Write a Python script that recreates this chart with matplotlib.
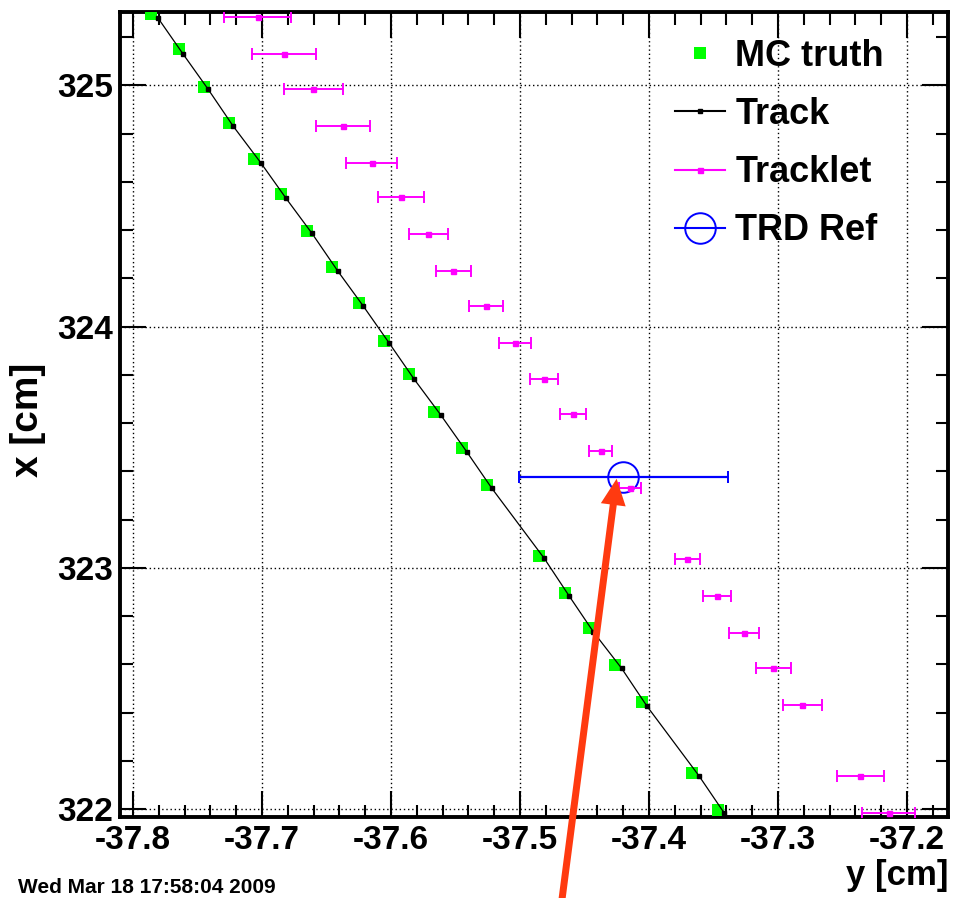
import matplotlib
matplotlib.use("Agg")
import matplotlib.pyplot as plt
from matplotlib.ticker import MultipleLocator, FormatStrFormatter
from matplotlib.lines import Line2D
from matplotlib.patches import FancyArrowPatch

# ---------------- data (horizontal = y [cm], vertical = x [cm]) ----------------
mc_y = [-37.786, -37.7646, -37.745, -37.7253, -37.7062, -37.685, -37.6653,
        -37.6455, -37.6246, -37.6052, -37.5858, -37.5664, -37.5452, -37.5258,
        -37.485, -37.4651, -37.4463, -37.4264, -37.4057, -37.3664, -37.3467]
mc_x = [325.296, 325.150, 324.995, 324.843, 324.695, 324.550, 324.396,
        324.248, 324.097, 323.942, 323.802, 323.647, 323.495, 323.343,
        323.049, 322.894, 322.749, 322.597, 322.442, 322.148, 321.996]

track_y = [-37.7806, -37.7612, -37.7419, -37.7225, -37.7008, -37.6814, -37.6612,
           -37.6411, -37.6215, -37.6016, -37.5822, -37.5615, -37.5413, -37.5219,
           -37.4812, -37.462, -37.4432, -37.4212, -37.4018, -37.3612, -37.3419]
track_x = [325.279, 325.130, 324.985, 324.832, 324.678, 324.532, 324.386,
           324.229, 324.085, 323.933, 323.783, 323.634, 323.481, 323.330,
           323.039, 322.884, 322.735, 322.583, 322.428, 322.137, 321.985]

tracklet_y = [-37.7033, -37.6829, -37.6602, -37.6374, -37.615, -37.5925, -37.5711,
              -37.5517, -37.5264, -37.5039, -37.4814, -37.4587, -37.4374, -37.4147,
              -37.3703, -37.3475, -37.3261, -37.3036, -37.2812, -37.2364, -37.214]
tracklet_yerr = [0.026, 0.025, 0.0227, 0.021, 0.0197, 0.0179, 0.0153,
                 0.0138, 0.0132, 0.0122, 0.011, 0.0102, 0.0088, 0.0084,
                 0.0098, 0.0108, 0.0116, 0.0137, 0.0153, 0.0182, 0.0205]
tracklet_x = [325.285, 325.129, 324.984, 324.832, 324.677, 324.536, 324.383,
              324.231, 324.085, 323.931, 323.783, 323.636, 323.483, 323.330,
              323.035, 322.883, 322.731, 322.583, 322.431, 322.137, 321.982]

trdref_y = [-37.4199]
trdref_yerr = [0.081]
trdref_x = [323.378]

x_ticks = [-37.8, -37.7, -37.6, -37.5, -37.4, -37.3, -37.2]
y_ticks = [322, 323, 324, 325]
legend_labels = ["MC truth", "Track", "Tracklet", "TRD Ref"]
date_text = "Wed Mar 18 17:58:04 2009"

# ---------------- style ----------------
plt.rcParams['font.family'] = ['Liberation Sans', 'DejaVu Sans']
plt.rcParams['font.weight'] = 'bold'

W, H = 955, 898
fig = plt.figure(figsize=(W / 100, H / 100), dpi=100)
ax = fig.add_axes([120 / W, 1 - 817 / H, 828 / W, 805 / H])

ax.set_xlim(-37.8101, -37.1682)
ax.set_ylim(321.9668, 325.3043)

GREEN = '#00ff00'
MAG = '#ff00ff'
BLUE = '#0000ff'

# MC truth
ax.plot(mc_y, mc_x, linestyle='none', marker='s', markersize=8,
        color=GREEN, markeredgewidth=0, zorder=3)
# Track
ax.plot(track_y, track_x, '-', color='black', linewidth=0.9,
        marker='s', markersize=3, zorder=4)
# TRD Ref
ax.errorbar(trdref_y, trdref_x, xerr=trdref_yerr, fmt='o', color=BLUE,
            markerfacecolor='none', markeredgecolor=BLUE, markersize=22,
            markeredgewidth=1.4, elinewidth=1.6, capsize=4.5, capthick=1.6,
            zorder=5)
# Tracklets
ax.errorbar(tracklet_y, tracklet_x, xerr=tracklet_yerr, fmt='s', color=MAG,
            markersize=3.6, elinewidth=1.4, capsize=4, capthick=1.4, zorder=6)

# ticks / grid
ax.xaxis.set_minor_locator(MultipleLocator(0.02))
ax.yaxis.set_minor_locator(MultipleLocator(0.2))
ax.set_xticks(x_ticks)
ax.set_yticks(y_ticks)
ax.xaxis.set_major_formatter(FormatStrFormatter('%.1f'))
ax.yaxis.set_major_formatter(FormatStrFormatter('%d'))
ax.tick_params(which='both', direction='in', top=True, right=True,
               width=1.5, color='black')
ax.tick_params(which='major', length=19, labelsize=24)
ax.tick_params(which='minor', length=9)
ax.tick_params(axis='y', which='major', pad=5)
ax.tick_params(axis='x', which='major', pad=6)
for lab in ax.get_xticklabels() + ax.get_yticklabels():
    lab.set_fontweight('bold')
for sp in ax.spines.values():
    sp.set_linewidth(2.8)
ax.grid(True, which='major', color='black', linestyle=(0, (1, 2)),
        linewidth=1.0)
ax.set_axisbelow(True)

# axis titles
fig.text(28 / W, 1 - 420 / H, "x [cm]", rotation=90, ha='center',
         va='center', fontsize=28, fontweight='bold')
fig.text(948 / W, 1 - 876 / H, "y [cm]", ha='right', va='center',
         fontsize=25, fontweight='bold')

# legend
handles = [
    Line2D([], [], linestyle='none', marker='s', markersize=8,
           color=GREEN, markeredgewidth=0),
    Line2D([], [], color='black', linewidth=1.5, marker='s', markersize=3),
    Line2D([], [], color=MAG, linewidth=1.5, marker='s', markersize=3.6),
    Line2D([], [], color=BLUE, linewidth=1.5, marker='o', markersize=22,
           markerfacecolor='none', markeredgewidth=1.4),
]
leg = ax.legend(handles, legend_labels, loc='upper left',
                bbox_to_anchor=(675 / W, 1 - 39 / H),
                bbox_transform=fig.transFigure, frameon=False,
                prop={'size': 26, 'weight': 'bold'}, borderpad=0,
                borderaxespad=0, handlelength=1.39, handletextpad=0.28,
                labelspacing=0.64, numpoints=1)

# date stamp
fig.text(18 / W, 1 / H, date_text, ha='left', va='bottom',
         fontsize=15, fontweight='bold')

# red arrow annotation
fig.add_artist(FancyArrowPatch(
    posA=(561 / W, -0.01), posB=(617 / W, 1 - 476 / H),
    transform=fig.transFigure,
    arrowstyle='simple,head_length=1.05,head_width=1.0,tail_width=0.28',
    mutation_scale=18, color='#ff3a10', linewidth=0, zorder=10))

fig.savefig("out.png", dpi=100)
